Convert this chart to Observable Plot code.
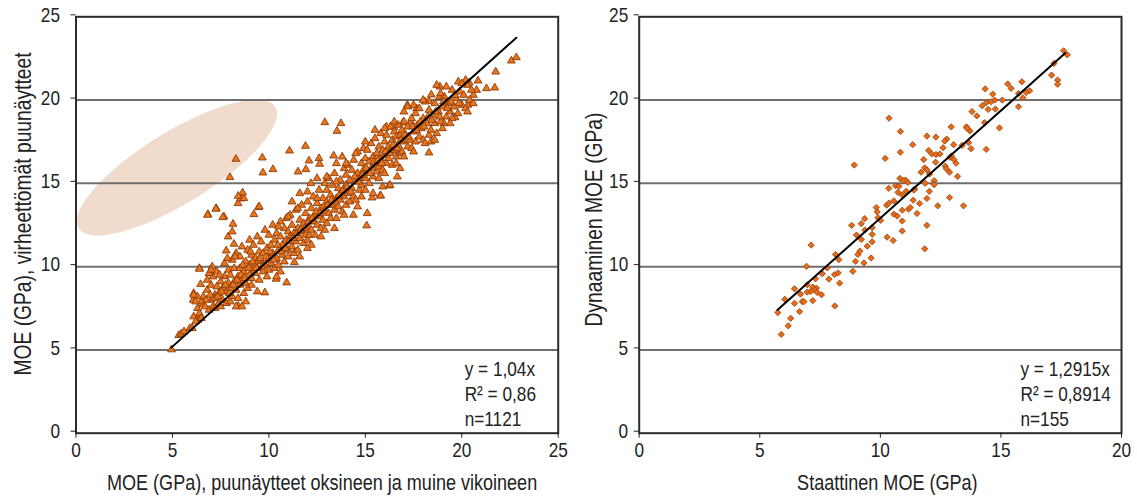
<!DOCTYPE html>
<html>
<head>
<meta charset="utf-8">
<script src="https://cdn.jsdelivr.net/npm/d3@7"></script>
<script src="https://cdn.jsdelivr.net/npm/@observablehq/plot@0.6"></script>
<style>
  html, body { margin: 0; padding: 0; background: #fff; }
  #wrap { position: relative; width: 1137px; height: 497px; display: flex; }
  #wrap svg { display: block; overflow: visible; }
</style>
</head>
<body>
<div id="wrap"></div>
<script>
// ---------- DATA ----------
const axisTicks = [0, 5, 10, 15, 20, 25];
const rightXTicks = [0, 5, 10, 15, 20];
const gridValues = [5, 10, 15, 20];

const leftXTitle = "MOE (GPa), puunäytteet oksineen ja muine vikoineen";
const leftYTitle = "MOE (GPa), virheettömät puunäytteet";
const rightXTitle = "Staattinen MOE (GPa)";
const rightYTitle = "Dynaaminen MOE (GPa)";

const leftStats = ["y = 1,04x", "R\u00B2 = 0,86", "n=1121"];
const rightStats = ["y = 1,2915x", "R\u00B2 = 0,8914", "n=155"];

const leftSlope = 1.04;
const leftFitRange = [4.94, 22.83];
const rightSlope = 1.2915;
const rightFitRange = [5.73, 17.67];

// shaded ellipse: centre, end of major axis (data units), minor/major ratio
const ellipseCenter = [5.26, 15.92];
const ellipseMajorEnd = [10.36, 19.56];
const ellipseRatio = 0.31;

// left panel: [MOE with defects, MOE clear wood]
const leftPairs = [
  [4.95,5.02],[5.33,5.88],[5.45,5.96],[5.6,6.1],[5.9,6.3],[6.03,6.3],[6.32,6.8],[6.41,7.1],[6.58,7.74],[6.08,8.0],[6.1,8.4],[6.46,8.94],
  [6.4,9.9],[7.06,10.0],[6.92,9.6],[7.79,10.96],[8.19,11.36],[7.89,11.8],[8.1,12.1],[8.14,12.56],[7.67,13.0],[7.27,13.5],[6.84,13.14],
  [6.82,13.1],[7.25,13.46],[7.61,12.96],[9.46,13.56],[9.22,13.14],[9.5,13.6],[8.4,13.8],[8.53,14.08],[8.7,14.1],[8.64,14.44],[8.41,14.24],
  [7.98,15.36],[8.29,16.46],[9.66,16.54],[9.69,15.64],[10.21,15.84],[11.07,16.96],[11.9,17.24],[11.51,15.7],[12.08,16.36],[12.6,16.5],
  [12.63,16.16],[13.36,16.66],[11.92,15.84],[12.18,15.0],[12.9,18.66],[13.74,18.6],[13.53,18.14],[10.92,9.04],[9.79,8.44],[8.41,7.64],
  [10.38,9.26],[11.32,10.26],[6.4,9.86],[15.07,12.46],[15.77,14.26],[16.24,14.86],[14.38,13.1],[15.36,14.14],[15.8,14.26],[16.28,14.9],
  [16.66,15.4],[16.09,18.4],[16.49,18.36],[16.95,18.64],[17.35,18.7],[17.18,19.7],[17.66,19.5],[18.3,19.94],[18.42,20.32],[18.85,20.2],
  [18.87,20.8],[19.82,21.1],[20.39,21.04],[20.84,21.16],[20.77,20.6],[20.6,20.3],[20.31,19.7],[21.28,20.7],[21.71,20.74],[21.76,21.7],
  [22.57,22.36],[22.83,22.56],[19.65,18.96],[19.08,18.6],[18.3,16.84],
  [6.1,7.0],[6.2,6.7],[6.3,7.5],[6.4,7.2],[6.5,7.9],[6.5,6.9],[6.6,8.2],[6.7,7.6],[6.8,8.6],[6.3,8.2],[6.1,8.3],[6.2,7.9],
  [6.9,7.4],[7.0,8.0],[7.0,8.9],[7.1,7.6],[7.1,9.4],[7.2,8.3],[7.2,7.5],[7.3,8.8],[7.3,9.7],[7.4,7.8],[7.4,8.4],[7.5,9.1],
  [7.5,7.6],[6.9,9.6],[7.0,9.8],[6.8,9.2],[7.6,8.0],[7.6,8.7],[7.7,9.4],[7.7,10.2],[7.8,7.8],[7.8,8.5],[7.9,9.0],[7.9,9.8],
  [8.0,7.9],[8.0,8.7],[8.0,9.5],[8.1,10.4],[8.1,8.2],[8.2,9.1],[8.2,9.9],[8.3,8.6],[8.3,10.8],[8.4,9.4],[8.4,8.1],[8.5,9.9],
  [8.5,8.9],[8.5,10.6],[8.6,9.2],[8.6,11.2],[8.7,8.4],[8.7,9.7],[8.8,10.3],[8.8,9.0],[8.9,11.0],[8.9,8.7],[9.0,9.5],[9.0,10.1],
  [9.0,11.6],[8.3,7.6],[8.8,7.9],[8.6,7.6],[9.1,8.9],[9.4,8.5],
  [9.1,10.7],[9.1,9.3],[9.2,11.3],[9.2,10.0],[9.3,9.6],[9.3,10.5],[9.4,11.8],[9.4,9.9],[9.5,10.9],[9.5,9.2],[9.6,10.3],[9.6,11.5],
  [9.7,9.7],[9.7,10.8],[9.8,12.2],[9.8,10.1],[9.9,11.1],[9.9,9.4],[10.0,10.5],[10.0,11.9],[10.0,9.8],
  [10.1,11.3],[10.1,10.2],[10.2,12.5],[10.2,10.8],[10.3,9.9],[10.3,11.6],[10.4,10.5],[10.4,12.0],[10.5,11.0],[10.5,10.1],[10.6,11.8],
  [10.6,12.7],[10.7,10.7],[10.7,11.3],[10.8,12.3],[10.8,10.3],[10.9,11.6],[10.9,12.9],[11.0,11.0],[11.0,10.6],[11.0,12.1],[10.4,9.4],[10.6,9.7],
  [11.1,11.8],[11.1,13.1],[11.2,11.2],[11.2,12.5],[11.3,10.8],[11.3,12.0],[11.4,13.4],[11.4,11.5],[11.5,12.3],[11.5,11.0],[11.6,12.8],
  [11.6,11.7],[11.7,13.7],[11.7,12.1],[11.8,11.4],[11.8,12.6],[11.9,13.2],[11.9,11.9],[12.0,12.4],[12.0,13.9],[12.0,11.6],[11.6,14.4],[11.2,13.9],
  [11.6,10.6],[12.2,11.3],[13.4,12.3],
  [12.1,12.9],[12.1,11.9],[12.2,13.5],[12.2,12.2],[12.3,14.2],[12.3,12.7],[12.4,13.1],[12.4,11.9],[12.5,13.8],[12.5,12.5],[12.6,14.6],
  [12.6,13.0],[12.7,12.3],[12.7,13.5],[12.8,14.1],[12.8,12.8],[12.9,15.0],[12.9,13.3],[13.0,12.6],[13.0,13.9],[13.0,14.6],[12.5,15.3],[12.7,11.8],
  [13.1,13.2],[13.1,15.3],[13.2,14.3],[13.2,12.9],[13.3,13.7],[13.3,14.9],[13.4,13.4],[13.4,15.6],[13.5,14.1],[13.5,12.9],[13.6,14.7],
  [13.6,13.6],[13.7,15.2],[13.7,14.0],[13.8,13.3],[13.8,14.5],[13.9,15.9],[13.9,14.2],[14.0,13.7],[14.0,14.9],[14.0,15.5],[13.5,16.2],[13.8,16.6],
  [14.1,14.4],[14.1,16.1],[14.2,15.2],[14.2,13.9],[14.3,14.7],[14.3,15.8],[14.4,14.2],[14.4,16.4],[14.5,15.1],[14.5,14.0],[14.6,15.6],
  [14.6,16.9],[14.7,14.6],[14.7,15.3],[14.8,16.2],[14.8,14.9],[14.9,15.8],[14.9,17.1],[15.0,15.3],[15.0,14.6],[15.0,16.5],[14.6,13.6],[15.1,13.2],
  [15.1,15.7],[15.1,17.0],[15.2,16.3],[15.2,15.0],[15.3,15.9],[15.3,17.4],[15.4,16.6],[15.4,15.4],[15.5,16.1],[15.5,17.7],[15.6,15.7],
  [15.6,16.8],[15.7,17.2],[15.7,16.0],[15.8,16.5],[15.8,18.0],[15.9,17.0],[15.9,15.8],[16.0,16.7],[16.0,17.5],[16.0,15.6],[15.4,14.4],[15.9,14.8],
  [16.1,16.2],[16.1,17.9],[16.2,17.2],[16.2,16.5],[16.3,18.4],[16.3,16.9],[16.4,17.6],[16.4,16.1],[16.5,18.1],[16.5,17.0],[16.6,16.6],
  [16.6,17.8],[16.7,18.5],[16.7,17.3],[16.8,16.8],[16.8,17.9],[16.9,18.2],[16.9,16.9],[17.0,17.5],[17.0,18.7],[17.0,16.6],[17.2,19.6],[16.8,15.9],
  [17.1,17.9],[17.2,17.2],[17.2,18.4],[17.3,17.6],[17.4,18.9],[17.4,17.1],[17.5,18.1],[17.6,17.5],[17.6,19.2],[17.7,18.5],[17.8,17.8],
  [17.8,19.5],[17.9,18.3],[18.0,17.6],[18.0,18.9],[17.5,19.7],[18.1,19.9],[18.1,17.4],[18.2,18.6],[18.3,17.9],[18.3,19.4],[18.4,18.2],
  [18.4,17.5],[18.5,19.1],
  [18.6,18.6],[18.6,19.8],[18.7,18.0],[18.8,19.3],[18.9,18.7],[19.0,19.6],[19.0,18.3],[19.1,20.2],[19.2,19.0],[19.3,19.8],[19.4,19.3],
  [19.5,20.6],[19.5,18.9],[19.6,19.6],[19.7,20.1],[19.8,19.2],[19.9,20.5],[20.0,19.7],[18.9,20.4],[19.2,20.8],
  [20.1,20.3],[20.2,19.5],[20.3,20.9],[20.4,20.0],[20.5,20.6],[20.2,21.2],[20.6,19.8],[20.0,21.0],
  [9.2,9.8],[9.45,10.4],[9.65,10.0],[9.85,10.6],[10.05,10.9],[10.25,10.4],[10.45,11.3],[10.65,10.9],[10.85,11.1],[11.05,11.5],[11.25,11.7],
  [11.45,12.0],[11.65,12.2],[11.85,12.3],[12.05,12.7],[12.25,12.9],[12.45,13.3],[12.65,13.2],[12.85,13.6],[13.05,13.7],[13.25,14.0],[13.45,13.9],
  [13.65,14.3],[13.85,14.6],[14.05,14.8],[14.25,14.5],[14.45,15.4],[14.65,15.1],[14.85,15.5],[15.05,15.9],[15.25,15.6],[15.45,16.3],[15.65,16.4],
  [15.85,16.2],[16.05,16.9],[16.25,16.8],[16.45,17.3],[16.65,17.1],[16.85,17.6],[17.05,17.9],[17.25,17.8],[17.45,18.4],[17.65,18.2],[17.85,18.7],
  [18.05,18.4],[18.25,19.0],[18.45,18.8],[18.65,19.3],[18.85,19.0],[19.05,19.9],[19.25,19.5],[19.45,19.9],[19.65,20.3],[19.85,19.8],
  [7.15,8.1],[7.35,8.2],[7.55,8.5],[7.75,8.9],[7.95,8.4],[8.15,8.9],[8.35,9.2],[8.55,9.5],[8.75,9.3],[8.95,9.9],[9.15,10.3],[9.35,9.9],
  [6.75,8.0],[6.95,8.3],[7.45,9.5],[7.85,10.5],[8.25,10.6],[8.65,10.1],[9.05,10.9],[9.55,10.5],
  [10.5,12.4],[11.0,13.0],[11.5,13.5],[12.0,14.5],[12.5,14.1],[13.0,15.4],[13.5,15.1],[14.0,16.2],[14.5,16.8],[15.0,17.5],[15.5,18.2],
  [16.0,18.3],[16.5,18.7],[17.0,19.3],[18.0,20.0],[18.7,20.9],
  [12.0,11.1],[12.9,12.2],[13.9,13.1],[14.8,14.2],[15.7,15.3],[16.6,16.2],[17.5,16.9],[18.6,17.6],[19.4,18.6],[20.3,19.3]
];

// right panel: [static MOE, dynamic MOE]
const rightPairs = [
  [17.6,22.96],[17.75,22.72],[17.2,22.2],[17.1,21.5],[17.35,21.2],[17.35,20.95],[15.87,21.1],[15.28,20.97],[15.42,20.7],[15.73,20.4],
  [15.91,20.14],[16.19,20.56],[15.73,19.6],[14.35,20.67],[14.66,20.36],[14.74,20.0],[14.39,19.84],[14.59,19.9],[15.06,20.0],[14.22,19.66],
  [14.47,19.44],[14.77,19.46],[13.8,19.31],[14.0,19.05],[14.94,18.33],[14.32,18.65],[13.57,18.39],[13.71,18.15],[12.94,18.39],[14.39,17.04],
  [13.66,17.44],[13.76,17.08],[13.39,17.28],[11.93,17.84],[12.3,17.78],[12.75,17.66],[12.67,17.54],[13.04,17.32],[12.6,17.14],[11.34,17.32],
  [10.83,18.12],[10.36,18.91],[10.83,16.87],[10.2,16.5],[8.92,16.1],[12.0,16.98],[12.13,16.77],[12.31,16.73],[12.47,16.77],[11.8,16.43],
  [12.29,16.27],[12.89,16.57],[13.05,16.43],[13.14,16.21],[12.94,16.65],[12.69,16.03],[12.87,15.67],[13.2,15.42],[12.74,15.87],[11.84,15.93],
  [11.93,15.81],[11.69,15.67],[12.04,15.56],[12.23,15.16],[12.23,14.92],[11.86,15.0],[12.03,14.52],[11.93,14.09],[12.38,13.65],[12.87,14.15],
  [13.45,13.65],[11.93,12.48],[11.84,11.07],[11.42,14.66],[11.36,13.99],[11.63,13.79],[11.52,13.19],[11.17,13.45],[11.24,13.55],[11.39,14.6],
  [11.04,15.2],[11.14,15.06],[10.81,15.3],[10.95,15.16],[10.63,14.86],[10.77,14.82],[11.07,14.52],[10.91,14.31],[10.73,14.46],[10.35,14.7],
  [10.56,13.95],[10.26,13.69],[10.35,13.81],[10.91,13.39],[10.56,13.15],[10.7,13.04],[10.91,12.74],[10.91,12.14],[10.28,11.77],[10.53,11.57],
  [9.83,13.55],[9.87,13.29],[9.9,12.94],[10.01,12.78],[9.66,12.34],[9.35,12.88],[9.21,12.58],[8.81,12.48],[9.01,11.9],[9.36,12.2],
  [9.66,11.94],[9.21,11.63],[9.46,11.23],[9.66,11.49],[9.07,10.73],[9.15,10.93],[8.97,10.32],[9.32,10.22],[9.62,10.52],[8.86,9.72],
  [8.14,10.73],[8.28,10.42],[7.13,11.29],[6.94,10.02],[7.8,9.92],[7.59,9.58],[7.31,9.27],[8.1,9.52],[8.25,9.62],[7.87,9.25],
  [8.31,9.01],[8.11,7.64],[6.97,8.91],[7.2,8.77],[7.35,8.71],[7.27,8.61],[7.11,8.51],[7.38,8.45],[7.56,8.31],[6.97,8.47],
  [6.76,7.9],[6.44,8.67],[6.69,8.35],[6.44,7.8],[6.83,7.9],[7.2,7.96],[6.65,7.3],[6.04,8.04],[6.28,6.9],[6.18,6.45],
  [5.89,5.93],[5.75,7.24],[16.05,20.45],[13.6,18.3]
];

// ---------- BUILD ----------
const FONT = "'Liberation Sans', Arial, sans-serif";
const INK = "#222";
const NARROW = 0.82; // condensed look of the original lettering

const leftData = leftPairs.map(([x, y]) => ({x, y}));
const rightData = rightPairs.map(([x, y]) => ({x, y}));
const fitLine = (slope, [a, b]) => [{x: a, y: slope * a}, {x: b, y: slope * b}];
const statsRows = (lines) => lines.map((t, i) => ({t, i}));

function ellipseMark(index, scales) {
  const cx = scales.x(ellipseCenter[0]), cy = scales.y(ellipseCenter[1]);
  const ex = scales.x(ellipseMajorEnd[0]), ey = scales.y(ellipseMajorEnd[1]);
  const a = Math.hypot(ex - cx, ey - cy);
  const ang = Math.atan2(ey - cy, ex - cx) * 180 / Math.PI;
  return d3.create("svg:ellipse")
    .attr("cx", cx).attr("cy", cy)
    .attr("rx", a).attr("ry", a * ellipseRatio)
    .attr("transform", `rotate(${ang} ${cx} ${cy})`)
    .attr("fill", "#f0dbcc").node();
}

function panel(opts) {
  const {width, ml, mr, xDomain, xTicks, data, symbol, r, fill, stroke, slope, range,
         stats, statX, xTitle, yTitle, xTitleDx, yTitleDx, yTitleDy, yPad, withEllipse} = opts;
  const marks = [];
  if (withEllipse) marks.push(ellipseMark);
  marks.push(
    Plot.ruleY(gridValues, {stroke: "#6f6f6f", strokeWidth: 2}),
    Plot.frame({stroke: "#2b2b2b", strokeWidth: 2}),
    Plot.axisX({ticks: xTicks, tickSize: 5, tickPadding: 4, label: null, fontSize: 21, fill: INK, stroke: INK}),
    Plot.axisY({ticks: axisTicks, tickSize: 5, tickPadding: yPad, label: null, fontSize: 21, fill: INK, stroke: INK, dy: -2}),
    Plot.dot(data, {x: "x", y: "y", symbol, r, fill, stroke, strokeWidth: 0.9}),
    Plot.line(fitLine(slope, range), {x: "x", y: "y", stroke: "#000", strokeWidth: 2}),
    Plot.text(statsRows(stats), {x: () => statX, y: (d) => [3.46, 1.96, 0.46][d.i], text: "t",
      textAnchor: "start", lineAnchor: "bottom", fontSize: 21, fill: INK}),
    Plot.text([xTitle], {frameAnchor: "bottom", dy: 57, dx: xTitleDx, lineAnchor: "bottom",
      textAnchor: "middle", fontSize: 22, fill: INK}),
    Plot.text([yTitle], {frameAnchor: "left", dx: yTitleDx, dy: yTitleDy, rotate: -90,
      textAnchor: "middle", lineAnchor: "middle", fontSize: 23.5, fill: INK})
  );
  return Plot.plot({
    width, height: 497,
    marginLeft: ml, marginRight: mr, marginTop: 16.3, marginBottom: 64.3,
    x: {domain: xDomain},
    y: {domain: [0, 25]},
    style: {fontFamily: FONT, color: INK, background: "#fff", overflow: "visible"},
    marks
  });
}

const leftPlot = panel({
  width: 570, ml: 75.5, mr: 12.3, xDomain: [0, 25], xTicks: axisTicks,
  data: leftData, symbol: "triangle", r: 2.9, fill: "#e8761f", stroke: "#8f3a04",
  slope: leftSlope, range: leftFitRange, stats: leftStats, statX: 20.15,
  xTitle: leftXTitle, yTitle: leftYTitle, xTitleDx: 5, yTitleDx: -52.5, yTitleDy: -11, yPad: 11,
  withEllipse: true
});
const rightPlot = panel({
  width: 567, ml: 68.7, mr: 16, xDomain: [0, 20], xTicks: rightXTicks,
  data: rightData, symbol: "diamond2", r: 2.8, fill: "#e56c1b", stroke: "#a3480e",
  slope: rightSlope, range: rightFitRange, stats: rightStats, statX: 15.81,
  xTitle: rightXTitle, yTitle: rightYTitle, xTitleDx: 7, yTitleDx: -44.7, yTitleDy: -5.5, yPad: 6,
  withEllipse: false
});

document.getElementById("wrap").append(leftPlot, rightPlot);

// condense every label horizontally (no narrow font is installed)
document.querySelectorAll("#wrap svg text").forEach((t) => {
  const own = t.getAttribute("transform") || "";
  if (own.includes("rotate")) {
    t.setAttribute("transform", own + ` scale(${NARROW},1)`);
    return;
  }
  const len = t.getComputedTextLength();
  if (len > 0) {
    t.setAttribute("textLength", (len * NARROW).toFixed(2));
    t.setAttribute("lengthAdjust", "spacingAndGlyphs");
  }
});
</script>
</body>
</html>
